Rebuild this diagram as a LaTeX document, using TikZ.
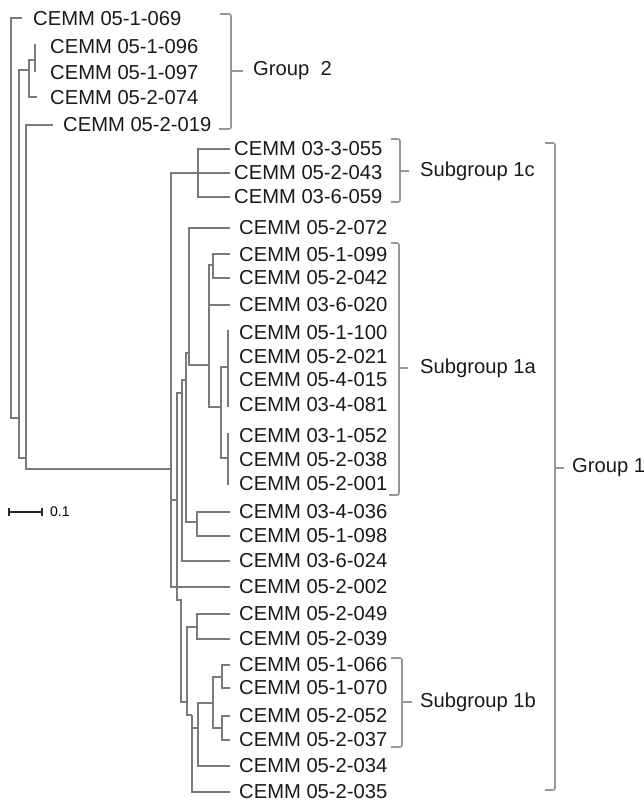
\documentclass[tikz,border=0pt]{standalone}
\usepackage{fontspec}
\setmainfont{Liberation Sans}
\usetikzlibrary{positioning}
\definecolor{treegrey}{HTML}{7A7A7A}
\definecolor{brackgrey}{HTML}{979797}
\definecolor{inktext}{HTML}{1A1A1A}

\begin{document}
\begin{tikzpicture}[x=1pt, y=-1pt,
  strain/.style={anchor=west, inner sep=0pt, text=inktext, font=\fontsize{20.2}{24}\selectfont},
  grouplabel/.style={anchor=west, inner sep=0pt, text=inktext, font=\fontsize{20.2}{24}\selectfont},
  branch/.style={draw=treegrey, line width=2.8pt},
  bracket/.style={draw=brackgrey, line width=1.6pt, rounded corners=2pt},
  scalebar/.style={draw=black!85, line width=1.3pt}]
\useasboundingbox (0,0) rectangle (644,802);

% strain labels, group 2
\node[strain] (s051069) at (33,19) {CEMM 05-1-069};
\node[strain] (s051096) at (50,47) {CEMM 05-1-096};
\node[strain] (s051097) at (50,73) {CEMM 05-1-097};
\node[strain] (s052074) at (50,98) {CEMM 05-2-074};
\node[strain] (s052019) at (63,125) {CEMM 05-2-019};
% strain labels, group 1
\node[strain] (s033055) at (234,149) {CEMM 03-3-055};
\node[strain] (s052043) at (234,173) {CEMM 05-2-043};
\node[strain] (s036059) at (234,197) {CEMM 03-6-059};
\node[strain] (s052072) at (239,228) {CEMM 05-2-072};
\node[strain] (s051099) at (239,255) {CEMM 05-1-099};
\node[strain] (s052042) at (239,278) {CEMM 05-2-042};
\node[strain] (s036020) at (239,305) {CEMM 03-6-020};
\node[strain] (s051100) at (239,333) {CEMM 05-1-100};
\node[strain] (s052021) at (239,357) {CEMM 05-2-021};
\node[strain] (s054015) at (239,380) {CEMM 05-4-015};
\node[strain] (s034081) at (239,405) {CEMM 03-4-081};
\node[strain] (s031052) at (239,436) {CEMM 03-1-052};
\node[strain] (s052038) at (239,460) {CEMM 05-2-038};
\node[strain] (s052001) at (239,484) {CEMM 05-2-001};
\node[strain] (s034036) at (239,512) {CEMM 03-4-036};
\node[strain] (s051098) at (239,536) {CEMM 05-1-098};
\node[strain] (s036024) at (239,561) {CEMM 03-6-024};
\node[strain] (s052002) at (239,587) {CEMM 05-2-002};
\node[strain] (s052049) at (239,614) {CEMM 05-2-049};
\node[strain] (s052039) at (239,639) {CEMM 05-2-039};
\node[strain] (s051066) at (239,665) {CEMM 05-1-066};
\node[strain] (s051070) at (239,688) {CEMM 05-1-070};
\node[strain] (s052052) at (239,716) {CEMM 05-2-052};
\node[strain] (s052037) at (239,740) {CEMM 05-2-037};
\node[strain] (s052034) at (239,766) {CEMM 05-2-034};
\node[strain] (s052035) at (239,792) {CEMM 05-2-035};

% tree, group 2
\draw[branch] (22,18) -- (11,18) -- (11,418) -- (19,418);
\draw[branch] (29,70) -- (19,70) -- (19,458) -- (26,458);
\draw[branch] (35,60) -- (29,60) -- (29,97) -- (37,97);
\draw[branch] (35,44) -- (35,72);
\draw[branch] (53,125) -- (26,125) -- (26,469) -- (171,469);
% tree, group 1
\draw[branch] (230,173) -- (171,173) -- (171,587) -- (230,587);
\draw[branch] (230,149) -- (198,149) -- (198,197) -- (230,197);
\draw[branch] (171,500) -- (177,500);
\draw[branch] (182,393) -- (177,393) -- (177,600) -- (181,600) -- (181,702) -- (187,702);
\draw[branch] (186,380) -- (182,380) -- (182,561) -- (230,561);
\draw[branch] (189,353) -- (186,353) -- (186,522) -- (197,522);
\draw[branch] (230,228) -- (189,228) -- (189,365) -- (209,365);
\draw[branch] (213,265) -- (209,265) -- (209,407) -- (221,407);
\draw[branch] (230,305) -- (209,305);
\draw[branch] (230,254) -- (213,254) -- (213,278) -- (230,278);
\draw[branch] (228,367) -- (221,367) -- (221,458) -- (228,458);
\draw[branch] (228,330) -- (228,407);
\draw[branch] (228,433) -- (228,485);
\draw[branch] (230,512) -- (197,512) -- (197,536) -- (230,536);
\draw[branch] (230,614) -- (197,614) -- (197,639) -- (230,639);
\draw[branch] (197,627) -- (187,627) -- (187,715) -- (192,715);
\draw[branch] (192,715) -- (192,792) -- (230,792);
\draw[branch] (192,728) -- (198,728);
\draw[branch] (213,703) -- (198,703) -- (198,766) -- (230,766);
\draw[branch] (222,677) -- (213,677) -- (213,728) -- (222,728);
\draw[branch] (230,665) -- (222,665) -- (222,688) -- (230,688);
\draw[branch] (230,716) -- (222,716) -- (222,740) -- (230,740);

% brackets
\draw[bracket] (220,14) -- (231,14) -- (231,129) -- (219,129);
\draw[bracket] (231,71) -- (243,71);
\node[grouplabel] (grp2) at (253,71) {Group\ \ 2};
\draw[bracket] (391,139) -- (400,139) -- (400,202) -- (391,202);
\draw[bracket] (400,171) -- (409,171);
\node[grouplabel] (sub1c) at (420,171) {Subgroup 1c};
\draw[bracket] (391,243) -- (399,243) -- (399,495) -- (389,495);
\draw[bracket] (399,368) -- (408,368);
\node[grouplabel] (sub1a) at (420,368) {Subgroup 1a};
\draw[bracket] (391,658) -- (402,658) -- (402,747) -- (391,747);
\draw[bracket] (402,702) -- (412,702);
\node[grouplabel] (sub1b) at (420,702) {Subgroup 1b};
\draw[bracket] (545,143) -- (555,143) -- (555,790) -- (545,790);
\draw[bracket] (555,468) -- (564,468);
\node[grouplabel] (grp1) at (572,468) {Group 1};

% scale bar
\coordinate (barL) at (9,512);
\coordinate (barR) at (42,512);
\draw[scalebar] (barL) -- (barR);
\draw[scalebar] ([yshift=-4pt]barL) -- ([yshift=4pt]barL);
\draw[scalebar] ([yshift=-4pt]barR) -- ([yshift=4pt]barR);
\node[anchor=west, inner sep=0pt, font=\fontsize{14}{16}\selectfont, right=8pt of barR] (barlabel) {0.1};
\end{tikzpicture}
\end{document}
